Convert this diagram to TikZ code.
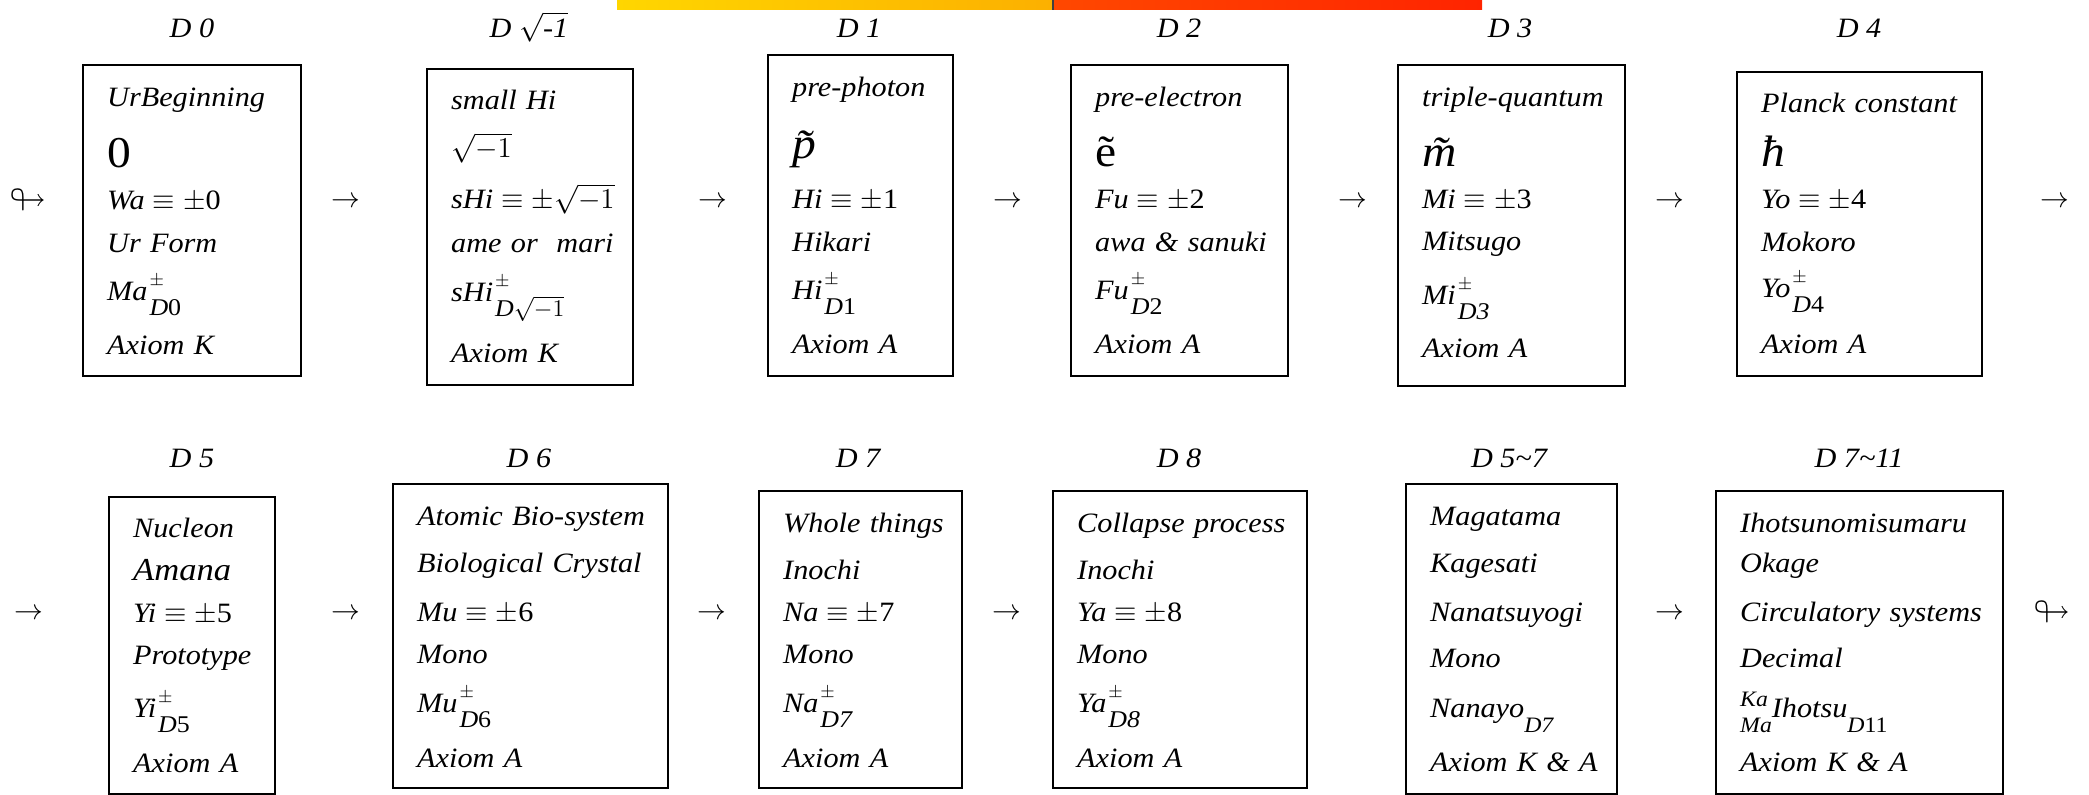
\documentclass[tikz,border=0pt]{standalone}
\usepackage{amsmath}
\usepackage{amssymb}
\usepackage{fontspec}
\setmainfont{Liberation Serif}[FakeStretch=1.08]
\usepackage{tikz}
\usepackage{color}

\definecolor{baryellow}{RGB}{255,214,0}
\definecolor{barorange}{RGB}{252,176,0}
\definecolor{barred}{RGB}{255,72,0}
\definecolor{barredb}{RGB}{255,36,0}

\newcommand{\dimeq}[2]{\mbox{#1$\;\equiv\pm$\textup{#2}}}
\newcommand{\bigsym}{\fontsize{22}{21}\selectfont}
\newcommand{\subfont}{\fontsize{12}{12}\selectfont}
\newcommand{\smallsub}{\fontsize{11}{11}\selectfont}
\newcommand{\pmsub}[2]{#1\kern1pt\rlap{\raisebox{7.5pt}{\fontsize{9}{9}\selectfont$\pm$}}\raisebox{-7.5pt}{\subfont #2}}
\newcommand{\lowsub}[1]{\raisebox{-7.5pt}{\smallsub #1}}

\tikzset{
  every node/.style={font={\fontsize{14}{21}\selectfont\itshape\lineskiplimit=-100pt\hyphenpenalty=10000\exhyphenpenalty=10000}},
  dbox/.style={draw, line width=1.2pt, inner xsep=12pt, inner ysep=0pt, align=left, anchor=base west},
  dlabel/.style={anchor=base},
  arr/.style={inner sep=0pt},
  looparr/.style={inner sep=0pt, font=\fontsize{18}{18}\selectfont}
}

\begin{document}
\begin{tikzpicture}[x=0.5pt,y=-0.5pt]
  \useasboundingbox (0,0) rectangle (2089,795);
  \shade[left color=baryellow, right color=barorange](617,0) rectangle (1053,10);
  \shade[left color=barred, right color=barredb](1053,0) rectangle (1482,10);
  \draw[black!75, line width=0.8pt](1053,0)--(1053,10);

  \node[dlabel] (l0) at (192,38) {D~0};
  \node[dlabel] (l1) at (529,38) {D~$\sqrt{\textit{-1}}$};
  \node[dlabel] (l2) at (859,38) {D~1};
  \node[dlabel] (l3) at (1179,38) {D~2};
  \node[dlabel] (l4) at (1510,38) {D~3};
  \node[dlabel] (l5) at (1859,38) {D~4};
  \node[dlabel] (l6) at (192,468) {D~5};
  \node[dlabel] (l7) at (529,468) {D~6};
  \node[dlabel] (l8) at (858,468) {D~7};
  \node[dlabel] (l9) at (1179,468) {D~8};
  \node[dlabel] (l10) at (1509,468) {D~5\textasciitilde 7};
  \node[dlabel] (l11) at (1859,468) {D~7\textasciitilde 11};

  \node[dbox, text width=85pt, text height=21pt, text depth=134.5pt] (d0) at (82,107)
    {UrBeginning\\[9.5pt]
     {\bigsym\upshape 0}\\
     \dimeq{Wa}{0}\\[0.5pt]
     Ur~Form\\[3pt]
     \pmsub{Ma}{D\textup{0}}\\[6pt]
     Axiom~K};
  \node[dbox, text width=79pt, text height=20.5pt, text depth=137.5pt] (dsq) at (426,110)
    {small~Hi\\[3pt]
     $\sqrt{-1}$\\[4.5pt]
     \dimeq{sHi}{$\sqrt{-1}$}\\[1pt]
     ame~or~~mari\\[3.5pt]
     \pmsub{sHi}{D$\sqrt{-1}$}\\[9.5pt]
     Axiom~K};
  \node[dbox, text width=68.5pt, text height=21pt, text depth=139.5pt] (d1) at (767,97)
    {pre-photon\\[10pt]
     {\bigsym\~{p}}\\[4pt]
     \dimeq{Hi}{1}\\[0.5pt]
     Hikari\\[3pt]
     \pmsub{Hi}{D\textup{1}}\\[6pt]
     Axiom~A};
  \node[dbox, text width=84.5pt, text height=21pt, text depth=134.5pt] (d2) at (1070,107)
    {pre-electron\\[9pt]
     {\bigsym\upshape\~{e}}\\
     \dimeq{Fu}{2}\\[0.5pt]
     awa~\&~sanuki\\[3pt]
     \pmsub{Fu}{D\textup{2}}\\[6pt]
     Axiom~A};
  \node[dbox, text width=89.5pt, text height=21pt, text depth=139.5pt] (d3) at (1397,107)
    {triple-quantum\\[9pt]
     {\bigsym\~{m}}\\
     \dimeq{Mi}{3}\\
     Mitsugo\\[6pt]
     \pmsub{Mi}{D3}\\[5.5pt]
     Axiom~A};
  \node[dbox, text width=98.5pt, text height=20.5pt, text depth=131.5pt] (d4) at (1736,113)
    {Planck~constant\\[6pt]
     {\bigsym ħ}\\
     \dimeq{Yo}{4}\\[0.5pt]
     Mokoro\\[2pt]
     \pmsub{Yo}{D\textup{4}}\\[7pt]
     Axiom~A};

  \node[dbox, text width=59pt, text height=20.5pt, text depth=128pt] (d5) at (108,538)
    {Nucleon\\[0.5pt]
     {\fontsize{16}{21}\selectfont Amana}\\
     \dimeq{Yi}{5}\\
     Prototype\\[5.5pt]
     \pmsub{Yi}{D\textup{5}}\\[6.5pt]
     Axiom~A};
  \node[dbox, text width=113.5pt, text height=21pt, text depth=131pt] (d6) at (392,526)
    {Atomic~Bio-system\\[2.5pt]
     Biological~Crystal\\[3.5pt]
     \dimeq{Mu}{6}\\
     Mono\\[3.5pt]
     \pmsub{Mu}{D\textup{6}}\\[6.5pt]
     Axiom~A};
  \node[dbox, text width=77.5pt, text height=21pt, text depth=127.5pt] (d7) at (758,533)
    {Whole~things\\[2.5pt]
     Inochi\\
     \dimeq{Na}{7}\\
     Mono\\[3.5pt]
     \pmsub{Na}{D7}\\[6.5pt]
     Axiom~A};
  \node[dbox, text width=103pt, text height=21pt, text depth=127.5pt] (d8) at (1052,533)
    {Collapse~process\\[2.5pt]
     Inochi\\
     \dimeq{Ya}{8}\\
     Mono\\[3.5pt]
     \pmsub{Ya}{D8}\\[6.5pt]
     Axiom~A};
  \node[dbox, text width=81.5pt, text height=21pt, text depth=134pt] (d57) at (1405,526)
    {Magatama\\[2.5pt]
     Kagesati\\[3.5pt]
     Nanatsuyogi\\[2pt]
     Mono\\[4pt]
     Nanayo\lowsub{D7}\\[6pt]
     Axiom~K~\&~A};
  \node[dbox, text width=119.5pt, text height=21pt, text depth=130.5pt] (d711) at (1715,533)
    {Ihotsunomisumaru\\[-1pt]
     Okage\\[3.5pt]
     Circulatory~systems\\[2pt]
     Decimal\\[4pt]
     \leavevmode\rlap{\raisebox{5.5pt}{\smallsub Ka}}\raisebox{-7.5pt}{\smallsub Ma}Ihotsu\lowsub{D\textup{11}}\\[6pt]
     Axiom~K~\&~A};

  \node[looparr] (s0) at (29,200) {$\looparrowright$};
  \node[arr] (a1) at (346,202) {$\rightarrow$};
  \node[arr] (a2) at (713,202) {$\rightarrow$};
  \node[arr] (a3) at (1008,202) {$\rightarrow$};
  \node[arr] (a4) at (1353,202) {$\rightarrow$};
  \node[arr] (a5) at (1670,202) {$\rightarrow$};
  \node[arr] (a6) at (2055,202) {$\rightarrow$};
  \node[arr] (a7) at (29,614) {$\rightarrow$};
  \node[arr] (a8) at (346,614) {$\rightarrow$};
  \node[arr] (a9) at (712,614) {$\rightarrow$};
  \node[arr] (a10) at (1007,614) {$\rightarrow$};
  \node[arr] (a11) at (1670,614) {$\rightarrow$};
  \node[looparr] (s1) at (2052,612) {$\looparrowright$};
\end{tikzpicture}
\end{document}
